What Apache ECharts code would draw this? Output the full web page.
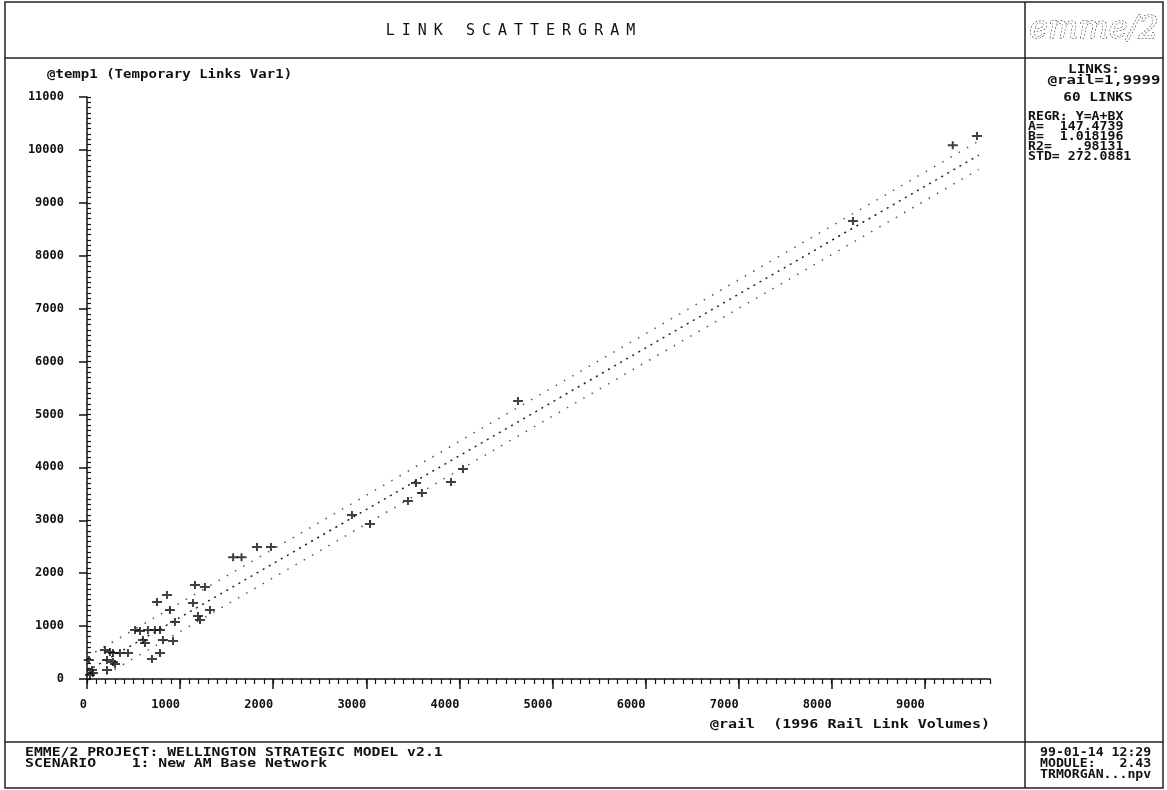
<!DOCTYPE html>
<html>
<head>
<meta charset="utf-8">
<title>Link Scattergram</title>
<script src="https://cdn.jsdelivr.net/npm/echarts@6/dist/echarts.min.js"></script>
<style>
  html, body { margin: 0; padding: 0; background: #fff; }
  #chart { width: 1167px; height: 790px; }
  #titulo {
    position: absolute; left: 5px; top: 21px; width: 1018px;
    text-align: center; color: #111;
    font: 15px 'DejaVu Sans Mono', monospace; letter-spacing: 7px;
  }
</style>
</head>
<body>
<div id="chart"></div>
<div id="titulo">LINK SCATTERGRAM</div>
<script>
// Pontos (links): [@rail, @temp1]
const linkPoints = [
    [20, 360], [32, 76], [54, 170], [64, 113], [193, 548], [215, 359], [215, 170],
    [247, 510], [279, 491], [279, 321], [301, 283], [354, 491], [440, 491],
    [516, 926], [569, 907], [601, 737], [623, 680], [655, 926], [698, 378],
    [730, 926], [752, 1455], [784, 926], [784, 491], [816, 737], [859, 1588],
    [891, 1304], [924, 718], [945, 1077], [1139, 1437], [1160, 1777], [1192, 1191],
    [1214, 1115], [1267, 1739], [1321, 1304], [1570, 2300], [1660, 2300],
    [1826, 2495], [1976, 2495], [2846, 3100], [3040, 2930], [3448, 3365],
    [3534, 3705], [3598, 3516], [3910, 3724], [4039, 3970], [4630, 5255],
    [8228, 8658], [9300, 10090], [9560, 10265]
];

// Retas de regressão (Y = A + BX) e faixa +/- STD, extremos
const upperLine = [[0, 420], [9580, 10170]];
const regrLine = [[0, 147], [9580, 9900]];
const lowerLine = [[120, 0], [9580, 9630]];

// Marcas dos eixos
const xMajor = [0, 1000, 2000, 3000, 4000, 5000, 6000, 7000, 8000, 9000];
const xMax = 9700;
const yMax = 11000;

// Textos do quadro
const panelTop = ['LINKS:', '@rail=1,9999', '60 LINKS'];
const panelRegr = ['REGR: Y=A+BX', 'A=  147.4739', 'B=  1.018196', 'R2=   .98131', 'STD= 272.0881'];
const footerLeft = ['EMME/2 PROJECT: WELLINGTON STRATEGIC MODEL v2.1', 'SCENARIO    1: New AM Base Network'];
const footerRight = ['99-01-14 12:29', 'MODULE:   2.43', 'TRMORGAN...npv'];

const MONO = "'DejaVu Sans Mono', 'Liberation Mono', monospace";
const INK = '#111';

function txt(x, y, text, size, align, sx, weight) {
    return {
        type: 'text', x: x, y: y, scaleX: sx || 1,
        style: {
            text: text, fill: INK,
            font: (weight || 'bold') + ' ' + size + 'px ' + MONO,
            align: align, textAlign: align,
            verticalAlign: 'middle', textVerticalAlign: 'middle'
        }
    };
}

function linha(x1, y1, x2, y2) {
    return {
        type: 'line', shape: { x1: x1, y1: y1, x2: x2, y2: y2 },
        style: { stroke: '#222', lineWidth: 1.5 }
    };
}

const chart = echarts.init(document.getElementById('chart'));

const graficos = [
    // Moldura
    { type: 'rect', shape: { x: 5, y: 2, width: 1158, height: 786 }, style: { fill: 'none', stroke: '#222', lineWidth: 1.5 } },
    linha(1025, 2, 1025, 788),
    linha(5, 58, 1163, 58),
    linha(5, 742, 1163, 742),
    // Logotipo
    {
        type: 'text', x: 1094, y: 30,
        style: {
            text: 'emme/2', fill: '#fff', stroke: '#222', lineWidth: 1, lineDash: [2, 1.5],
            font: 'italic 32px "DejaVu Serif", serif',
            align: 'center', textAlign: 'center', verticalAlign: 'middle', textVerticalAlign: 'middle'
        }
    },
    // Painel direito
    txt(1094, 70, panelTop[0], 12, 'center', 1.2),
    txt(1104, 81, panelTop[1], 13, 'center', 1.2),
    txt(1098, 98, panelTop[2], 12, 'center', 1.2),
    // Nomes dos eixos
    txt(47, 75, '@temp1 (Temporary Links Var1)', 12, 'left', 1.17),
    txt(710, 725, '@rail  (1996 Rail Link Volumes)', 12, 'left', 1.25)
];
panelRegr.forEach(function (t, i) {
    graficos.push(txt(1028, 117 + i * 10, t, 12, 'left', 1.1));
});
footerLeft.forEach(function (t, i) {
    graficos.push(txt(25, 753 + i * 11, t, 12, 'left', 1.23));
});
footerRight.forEach(function (t, i) {
    graficos.push(txt(1040, 753 + i * 11, t, 12, 'left', 1.1));
});

const rotulo = {
    fontFamily: MONO, fontWeight: 'bold', fontSize: 12, color: INK,
    formatter: function (v) { return String(v); }
};
const tracoEixo = { color: INK, width: 1.5 };

const option = {
    backgroundColor: '#fff',
    animation: false,
    grid: { left: 87, top: 97, width: 903, height: 582 },
    xAxis: [
        {
            type: 'value', min: 0, max: xMax, interval: 1000,
            axisLine: { show: true, onZero: false, lineStyle: tracoEixo },
            axisTick: { show: true, length: 10, customValues: xMajor, lineStyle: tracoEixo },
            axisLabel: Object.assign({ margin: 20, align: 'right', customValues: xMajor }, rotulo),
            splitLine: { show: false }
        },
        {
            type: 'value', min: 0, max: xMax, interval: 100, position: 'bottom',
            axisLine: { show: false },
            axisTick: { show: true, length: 5, lineStyle: { color: INK, width: 1.2 } },
            axisLabel: { show: false },
            splitLine: { show: false }
        }
    ],
    yAxis: [
        {
            type: 'value', min: 0, max: yMax, interval: 1000,
            axisLine: { show: true, onZero: false, lineStyle: tracoEixo },
            axisTick: { show: true, length: 8, lineStyle: tracoEixo },
            axisLabel: Object.assign({ margin: 23 }, rotulo),
            splitLine: { show: false }
        },
        {
            type: 'value', min: 0, max: yMax, interval: 100, position: 'left',
            axisLine: { show: false },
            axisTick: { show: true, inside: true, length: 4, lineStyle: { color: INK, width: 1.2 } },
            axisLabel: { show: false },
            splitLine: { show: false }
        }
    ],
    graphic: graficos,
    series: [
        {
            name: 'STD+', type: 'line', data: upperLine, symbol: 'none', silent: true,
            lineStyle: { color: '#555', width: 1.5, type: [1.5, 8] }, z: 1
        },
        {
            name: 'REGR', type: 'line', data: regrLine, symbol: 'none', silent: true,
            lineStyle: { color: '#222', width: 1.5, type: [2, 5] }, z: 1
        },
        {
            name: 'STD-', type: 'line', data: lowerLine, symbol: 'none', silent: true,
            lineStyle: { color: '#555', width: 1.5, type: [1.5, 8] }, z: 1
        },
        {
            name: 'Links', type: 'scatter', data: linkPoints,
            symbol: 'path://M0,3h4v-3h2v3h4v2h-4v3h-2v-3h-4z',
            symbolSize: [10, 8],
            itemStyle: { color: INK },
            z: 3
        }
    ]
};

chart.setOption(option);
</script>
</body>
</html>
